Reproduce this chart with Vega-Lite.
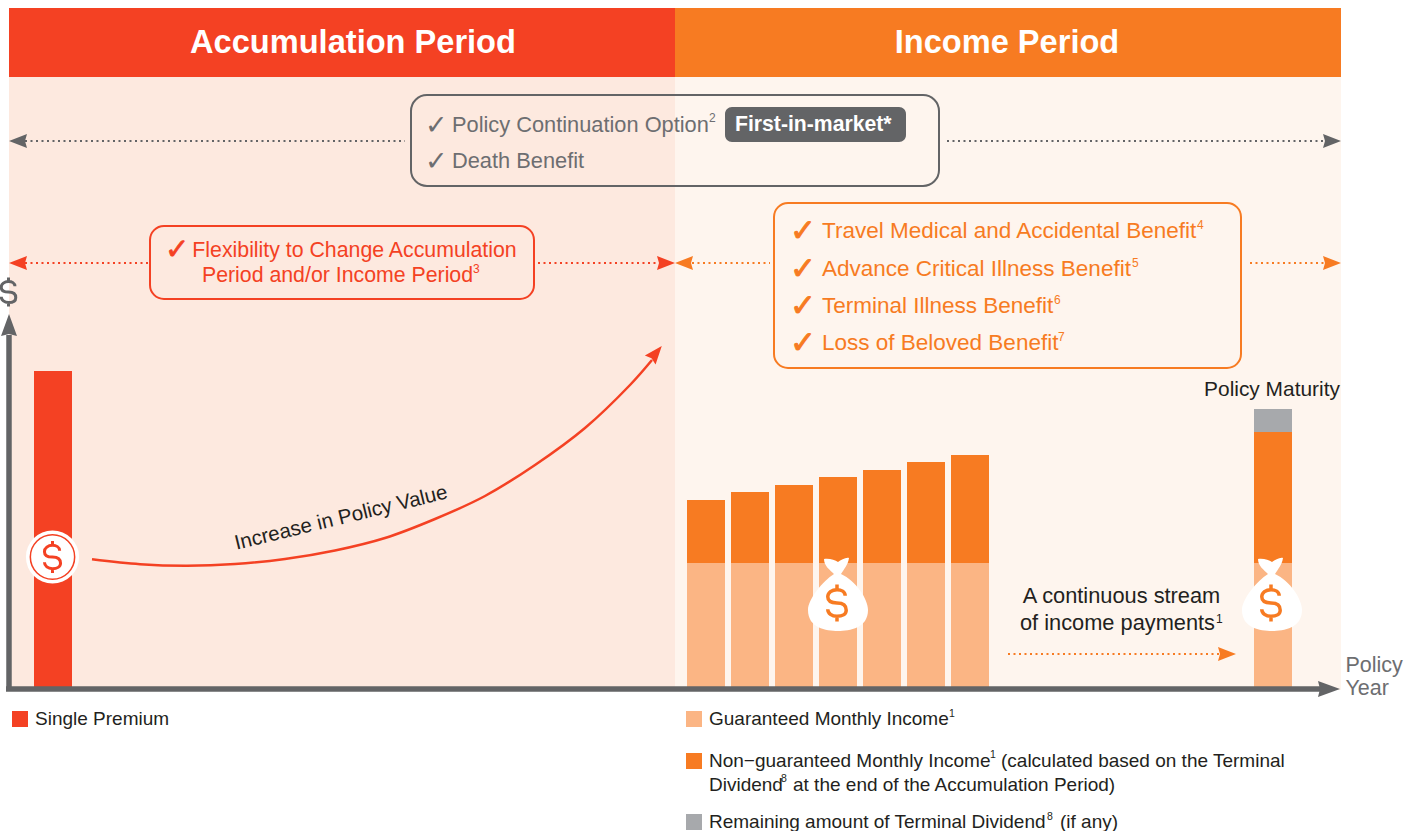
{
"$schema":"https://vega.github.io/schema/vega-lite/v6.json",
"width":1418,"height":831,"padding":0,
"autosize":"none",
"background":"#ffffff",
"config":{"view":{"stroke":null},"text":{"font":"Liberation Sans"}},
"encoding":{
 "x":{"field":"x","type":"quantitative","axis":null,"scale":{"domain":[0,1418],"nice":false,"zero":false}},
 "y":{"field":"y","type":"quantitative","axis":null,"scale":{"domain":[831,0],"nice":false,"zero":false}},
 "color":{"field":"tone","type":"nominal","legend":null,"scale":{
  "domain":["red","orange","peach","slate","silver","white","blush","cream","ink","grey"],
  "range":["#F44123","#F77B22","#FBB584","#636466","#A7A9AC","#FFFFFF","#FDE9DF","#FEF5EE","#231F20","#6D6E71"]}}
},
"layer":[
{"data":{"values":[
 {"x":9,"x2":675,"y":8,"y2":77,"tone":"red"},
 {"x":675,"x2":1341,"y":8,"y2":77,"tone":"orange"},
 {"x":9,"x2":675,"y":77,"y2":690,"tone":"blush"},
 {"x":675,"x2":1341,"y":77,"y2":690,"tone":"cream"}]},
 "mark":{"type":"rect"},
 "encoding":{"x2":{"field":"x2"},"y2":{"field":"y2"}}},
{"data":{"values":[
 {"series":"Single Premium","x":34,"x2":72,"y":371,"y2":688,"tone":"red"},
 {"series":"Guaranteed","x":687,"x2":725,"y":563,"y2":688,"tone":"peach"},
 {"series":"Non-guaranteed","x":687,"x2":725,"y":500,"y2":563,"tone":"orange"},
 {"series":"Guaranteed","x":731,"x2":769,"y":563,"y2":688,"tone":"peach"},
 {"series":"Non-guaranteed","x":731,"x2":769,"y":492,"y2":563,"tone":"orange"},
 {"series":"Guaranteed","x":775,"x2":813,"y":563,"y2":688,"tone":"peach"},
 {"series":"Non-guaranteed","x":775,"x2":813,"y":485,"y2":563,"tone":"orange"},
 {"series":"Guaranteed","x":819,"x2":857,"y":563,"y2":688,"tone":"peach"},
 {"series":"Non-guaranteed","x":819,"x2":857,"y":477,"y2":563,"tone":"orange"},
 {"series":"Guaranteed","x":863,"x2":901,"y":563,"y2":688,"tone":"peach"},
 {"series":"Non-guaranteed","x":863,"x2":901,"y":470,"y2":563,"tone":"orange"},
 {"series":"Guaranteed","x":907,"x2":945,"y":563,"y2":688,"tone":"peach"},
 {"series":"Non-guaranteed","x":907,"x2":945,"y":462,"y2":563,"tone":"orange"},
 {"series":"Guaranteed","x":951,"x2":989,"y":563,"y2":688,"tone":"peach"},
 {"series":"Non-guaranteed","x":951,"x2":989,"y":455,"y2":563,"tone":"orange"},
 {"series":"Guaranteed","x":1254,"x2":1292,"y":563,"y2":688,"tone":"peach"},
 {"series":"Non-guaranteed","x":1254,"x2":1292,"y":432,"y2":563,"tone":"orange"},
 {"series":"Remaining","x":1254,"x2":1292,"y":409,"y2":432,"tone":"silver"},
 {"series":"legend","x":12,"x2":28,"y":711,"y2":727,"tone":"red"},
 {"series":"legend","x":686,"x2":702,"y":711,"y2":727,"tone":"peach"},
 {"series":"legend","x":686,"x2":702,"y":753,"y2":769,"tone":"orange"},
 {"series":"legend","x":686,"x2":702,"y":814,"y2":830,"tone":"silver"}]},
 "mark":{"type":"rect"},
 "encoding":{"x2":{"field":"x2"},"y2":{"field":"y2"}}},
{"data":{"values":[
 {"x":9,"x2":9,"y":335,"y2":690,"tone":"slate"},
 {"x":6,"x2":1320,"y":689,"y2":689,"tone":"slate"}]},
 "mark":{"type":"rule","strokeWidth":5.5},
 "encoding":{"x2":{"field":"x2"},"y2":{"field":"y2"}}},
{"data":{"values":[
 {"x":25,"x2":405,"y":141,"tone":"slate"},
 {"x":947,"x2":1326,"y":141,"tone":"slate"},
 {"x":25,"x2":148,"y":263,"tone":"red"},
 {"x":538,"x2":660,"y":263,"tone":"red"},
 {"x":692,"x2":770,"y":263,"tone":"orange"},
 {"x":1250,"x2":1325,"y":263,"tone":"orange"},
 {"x":1008,"x2":1220,"y":654,"tone":"orange"}]},
 "mark":{"type":"rule","strokeWidth":2,"strokeDash":[2,3.5]},
 "encoding":{"x2":{"field":"x2"}}},
{"data":{"values":[
 {"x":1332,"y":141,"heading":0,"tone":"slate"},
 {"x":18,"y":141,"heading":180,"tone":"slate"},
 {"x":18,"y":263,"heading":180,"tone":"red"},
 {"x":666,"y":263,"heading":0,"tone":"red"},
 {"x":684,"y":263,"heading":180,"tone":"orange"},
 {"x":1332,"y":263,"heading":0,"tone":"orange"},
 {"x":1227,"y":654,"heading":0,"tone":"orange"},
 {"x":656,"y":353,"heading":-50,"tone":"red"}]},
 "mark":{"type":"point","shape":"M-9,-7L9,0L-9,7L-7,0Z","size":4,"filled":true,"opacity":1,"strokeWidth":0},
 "encoding":{"angle":{"field":"heading","type":"quantitative","scale":null}}},
{"data":{"values":[
 {"x":9,"y":325,"heading":-90,"tone":"slate"},
 {"x":1329,"y":689,"heading":0,"tone":"slate"}]},
 "mark":{"type":"point","shape":"M-11,-8L11,0L-11,8L-9,0Z","size":4,"filled":true,"opacity":1,"strokeWidth":0},
 "encoding":{"angle":{"field":"heading","type":"quantitative","scale":null}}},
{"data":{"values":[
 {"x":92,"y":559.3,"tone":"red"},{"x":140,"y":564.2,"tone":"red"},{"x":187,"y":565.7,"tone":"red"},{"x":235,"y":564,"tone":"red"},{"x":285,"y":559,"tone":"red"},{"x":335,"y":550.5,"tone":"red"},{"x":385,"y":538,"tone":"red"},{"x":435,"y":519,"tone":"red"},{"x":485,"y":496,"tone":"red"},{"x":535,"y":465,"tone":"red"},{"x":585,"y":428,"tone":"red"},{"x":630,"y":385,"tone":"red"},{"x":652,"y":360,"tone":"red"}]},
 "mark":{"type":"line","interpolate":"catmull-rom","strokeWidth":2.5},
 "encoding":{}},
{"data":{"values":[{"x":52.5,"y":557,"tone":"white"}]},
 "mark":{"type":"point","shape":"circle","size":2827,"filled":true,"opacity":1,"strokeWidth":0},"encoding":{}},
{"data":{"values":[{"x":52.5,"y":557,"tone":"red"}]},
 "mark":{"type":"point","shape":"circle","size":1963,"filled":false,"opacity":1,"strokeWidth":1.5},"encoding":{}},
{"data":{"values":[{"x":838,"y":595,"tone":"white"},{"x":1272,"y":595,"tone":"white"}]},
 "mark":{"type":"point","shape":"M-14,-36C-9,-37-3,-35 0,-33C3,-35 8,-38 11,-37C10,-30 6,-26 3,-21C18,-14 30,4 30,15C30,33 12,36 0,36C-12,36-30,33-30,15C-30,4-15,-14-4,-21C-8,-25-14,-29-14,-36Z","size":4,"filled":true,"opacity":1,"strokeWidth":0},"encoding":{}},
{"data":{"values":[{"x":837,"y":603,"tone":"orange"},{"x":1271,"y":603,"tone":"orange"}]},
 "mark":{"type":"point","shape":"M8,-7C8,-11 4,-13 0,-13C-5,-13-9,-10-9,-6C-9,-1-4,0 0,0C5,0 9,2 9,7C9,11 5,13 0,13C-5,13-9,10-9,6M0,-18L0,-13M0,13L0,18","size":4.2,"filled":false,"opacity":1,"strokeWidth":3.5},"encoding":{}},
{"data":{"values":[{"x":52.5,"y":557,"tone":"red"}]},
 "mark":{"type":"point","shape":"M8,-7C8,-11 4,-13 0,-13C-5,-13-9,-10-9,-6C-9,-1-4,0 0,0C5,0 9,2 9,7C9,11 5,13 0,13C-5,13-9,10-9,6M0,-18L0,-13M0,13L0,18","size":3.2,"filled":false,"opacity":1,"strokeWidth":3},"encoding":{}},
{"data":{"values":[{"x":8.5,"y":292,"tone":"slate"}]},
 "mark":{"type":"point","shape":"M8,-7C8,-11 4,-13 0,-13C-5,-13-9,-10-9,-6C-9,-1-4,0 0,0C5,0 9,2 9,7C9,11 5,13 0,13C-5,13-9,10-9,6M0,-18L0,-13M0,13L0,18","size":2.6,"filled":false,"opacity":1,"strokeWidth":3},"encoding":{}},
{"data":{"values":[{"x":411,"x2":939,"y":95,"y2":186,"tone":"slate"}]},
 "mark":{"type":"rect","filled":false,"cornerRadius":16,"strokeWidth":2},
 "encoding":{"x2":{"field":"x2"},"y2":{"field":"y2"}}},
{"data":{"values":[{"x":150,"x2":534,"y":226,"y2":299,"tone":"red"},{"x":774,"x2":1241,"y":203,"y2":368,"tone":"orange"}]},
 "mark":{"type":"rect","filled":false,"cornerRadius":14,"strokeWidth":2},
 "encoding":{"x2":{"field":"x2"},"y2":{"field":"y2"}}},
{"data":{"values":[{"x":725,"x2":906,"y":107,"y2":142,"tone":"slate"}]},
 "mark":{"type":"rect","cornerRadius":7},
 "encoding":{"x2":{"field":"x2"},"y2":{"field":"y2"}}},
{"data":{"values":[
 {"x":353,"y":53,"label":"Accumulation Period","tone":"white"},
 {"x":1007,"y":53,"label":"Income Period","tone":"white"}]},
 "mark":{"type":"text","fontSize":32.6,"fontWeight":"bold","align":"center","baseline":"alphabetic"},
 "encoding":{"text":{"field":"label"}}},
{"data":{"values":[{"x":735,"y":131,"label":"First-in-market*","tone":"white"}]},
 "mark":{"type":"text","fontSize":21.2,"fontWeight":"bold","align":"left","baseline":"alphabetic"},
 "encoding":{"text":{"field":"label"}}},
{"data":{"values":[
 {"x":452,"y":132,"label":"Policy Continuation Option","tone":"grey"},
 {"x":452,"y":168,"label":"Death Benefit","tone":"grey"}]},
 "mark":{"type":"text","fontSize":21.8,"align":"left","baseline":"alphabetic"},
 "encoding":{"text":{"field":"label"}}},
{"data":{"values":[
 {"x":822,"y":238,"label":"Travel Medical and Accidental Benefit","tone":"orange"},
 {"x":822,"y":276,"label":"Advance Critical Illness Benefit","tone":"orange"},
 {"x":822,"y":313,"label":"Terminal Illness Benefit","tone":"orange"},
 {"x":822,"y":350,"label":"Loss of Beloved Benefit","tone":"orange"}]},
 "mark":{"type":"text","fontSize":22.5,"align":"left","baseline":"alphabetic"},
 "encoding":{"text":{"field":"label"}}},
{"data":{"values":[
 {"x":354.5,"y":257,"label":"Flexibility to Change Accumulation","tone":"red"},
 {"x":337.5,"y":282,"label":"Period and/or Income Period","tone":"red"}]},
 "mark":{"type":"text","fontSize":21.3,"align":"center","baseline":"alphabetic"},
 "encoding":{"text":{"field":"label"}}},
{"data":{"values":[
 {"x":1272,"y":396,"label":"Policy Maturity","tone":"ink"}]},
 "mark":{"type":"text","fontSize":20.9,"align":"center","baseline":"alphabetic"},
 "encoding":{"text":{"field":"label"}}},
{"data":{"values":[
 {"x":1121.5,"y":603,"label":"A continuous stream","tone":"ink"},
 {"x":1117.5,"y":630,"label":"of income payments","tone":"ink"}]},
 "mark":{"type":"text","fontSize":21.8,"align":"center","baseline":"alphabetic"},
 "encoding":{"text":{"field":"label"}}},
{"data":{"values":[{"x":342.5,"y":524,"label":"Increase in Policy Value","tone":"ink"}]},
 "mark":{"type":"text","fontSize":20.6,"align":"center","baseline":"alphabetic","angle":-13.7},
 "encoding":{"text":{"field":"label"}}},
{"data":{"values":[
 {"x":1345.5,"y":672,"label":"Policy","tone":"grey"},
 {"x":1345.5,"y":695,"label":"Year","tone":"grey"}]},
 "mark":{"type":"text","fontSize":21.5,"align":"left","baseline":"alphabetic"},
 "encoding":{"text":{"field":"label"}}},
{"data":{"values":[
 {"x":35,"y":725,"label":"Single Premium","tone":"ink"},
 {"x":709,"y":725,"label":"Guaranteed Monthly Income","tone":"ink"},
 {"x":709,"y":767,"label":"Non−guaranteed Monthly Income","tone":"ink"},
 {"x":1001,"y":767,"label":"(calculated based on the Terminal","tone":"ink"},
 {"x":709,"y":791,"label":"Dividend","tone":"ink"},
 {"x":793,"y":791,"label":"at the end of the Accumulation Period)","tone":"ink"},
 {"x":709,"y":828,"label":"Remaining amount of Terminal Dividend","tone":"ink"},
 {"x":1060,"y":828,"label":"(if any)","tone":"ink"}]},
 "mark":{"type":"text","fontSize":19,"align":"left","baseline":"alphabetic"},
 "encoding":{"text":{"field":"label"}}},
{"data":{"values":[
 {"x":709,"y":122,"label":"2","tone":"grey"},
 {"x":473,"y":273,"label":"3","tone":"red"},
 {"x":1197,"y":229,"label":"4","tone":"orange"},
 {"x":1132,"y":267,"label":"5","tone":"orange"},
 {"x":1054,"y":304,"label":"6","tone":"orange"},
 {"x":1058,"y":341,"label":"7","tone":"orange"},
 {"x":1216,"y":623,"label":"1","tone":"ink"}]},
 "mark":{"type":"text","fontSize":12,"align":"left","baseline":"alphabetic"},
 "encoding":{"text":{"field":"label"}}},
{"data":{"values":[
 {"x":949,"y":717,"label":"1","tone":"ink"},
 {"x":990,"y":758,"label":"1","tone":"ink"},
 {"x":781,"y":782,"label":"8","tone":"ink"},
 {"x":1047,"y":820,"label":"8","tone":"ink"}]},
 "mark":{"type":"text","fontSize":10.5,"align":"left","baseline":"alphabetic"},
 "encoding":{"text":{"field":"label"}}},
{"data":{"values":[
 {"x":425,"y":134,"label":"✓","tone":"grey"},
 {"x":425,"y":170,"label":"✓","tone":"grey"}]},
 "mark":{"type":"text","font":"DejaVu Sans","fontSize":27,"align":"left","baseline":"alphabetic"},
 "encoding":{"text":{"field":"label"}}},
{"data":{"values":[
 {"x":165,"y":259,"label":"✓","tone":"red"}]},
 "mark":{"type":"text","font":"DejaVu Sans","fontSize":29,"align":"left","baseline":"alphabetic","stroke":"#F44123","strokeWidth":0.7},
 "encoding":{"text":{"field":"label"}}},
{"data":{"values":[
 {"x":790,"y":241,"label":"✓","tone":"orange"},
 {"x":790,"y":279,"label":"✓","tone":"orange"},
 {"x":790,"y":316,"label":"✓","tone":"orange"},
 {"x":790,"y":353,"label":"✓","tone":"orange"}]},
 "mark":{"type":"text","font":"DejaVu Sans","fontSize":31,"align":"left","baseline":"alphabetic","stroke":"#F77B22","strokeWidth":0.9},
 "encoding":{"text":{"field":"label"}}}
]}
